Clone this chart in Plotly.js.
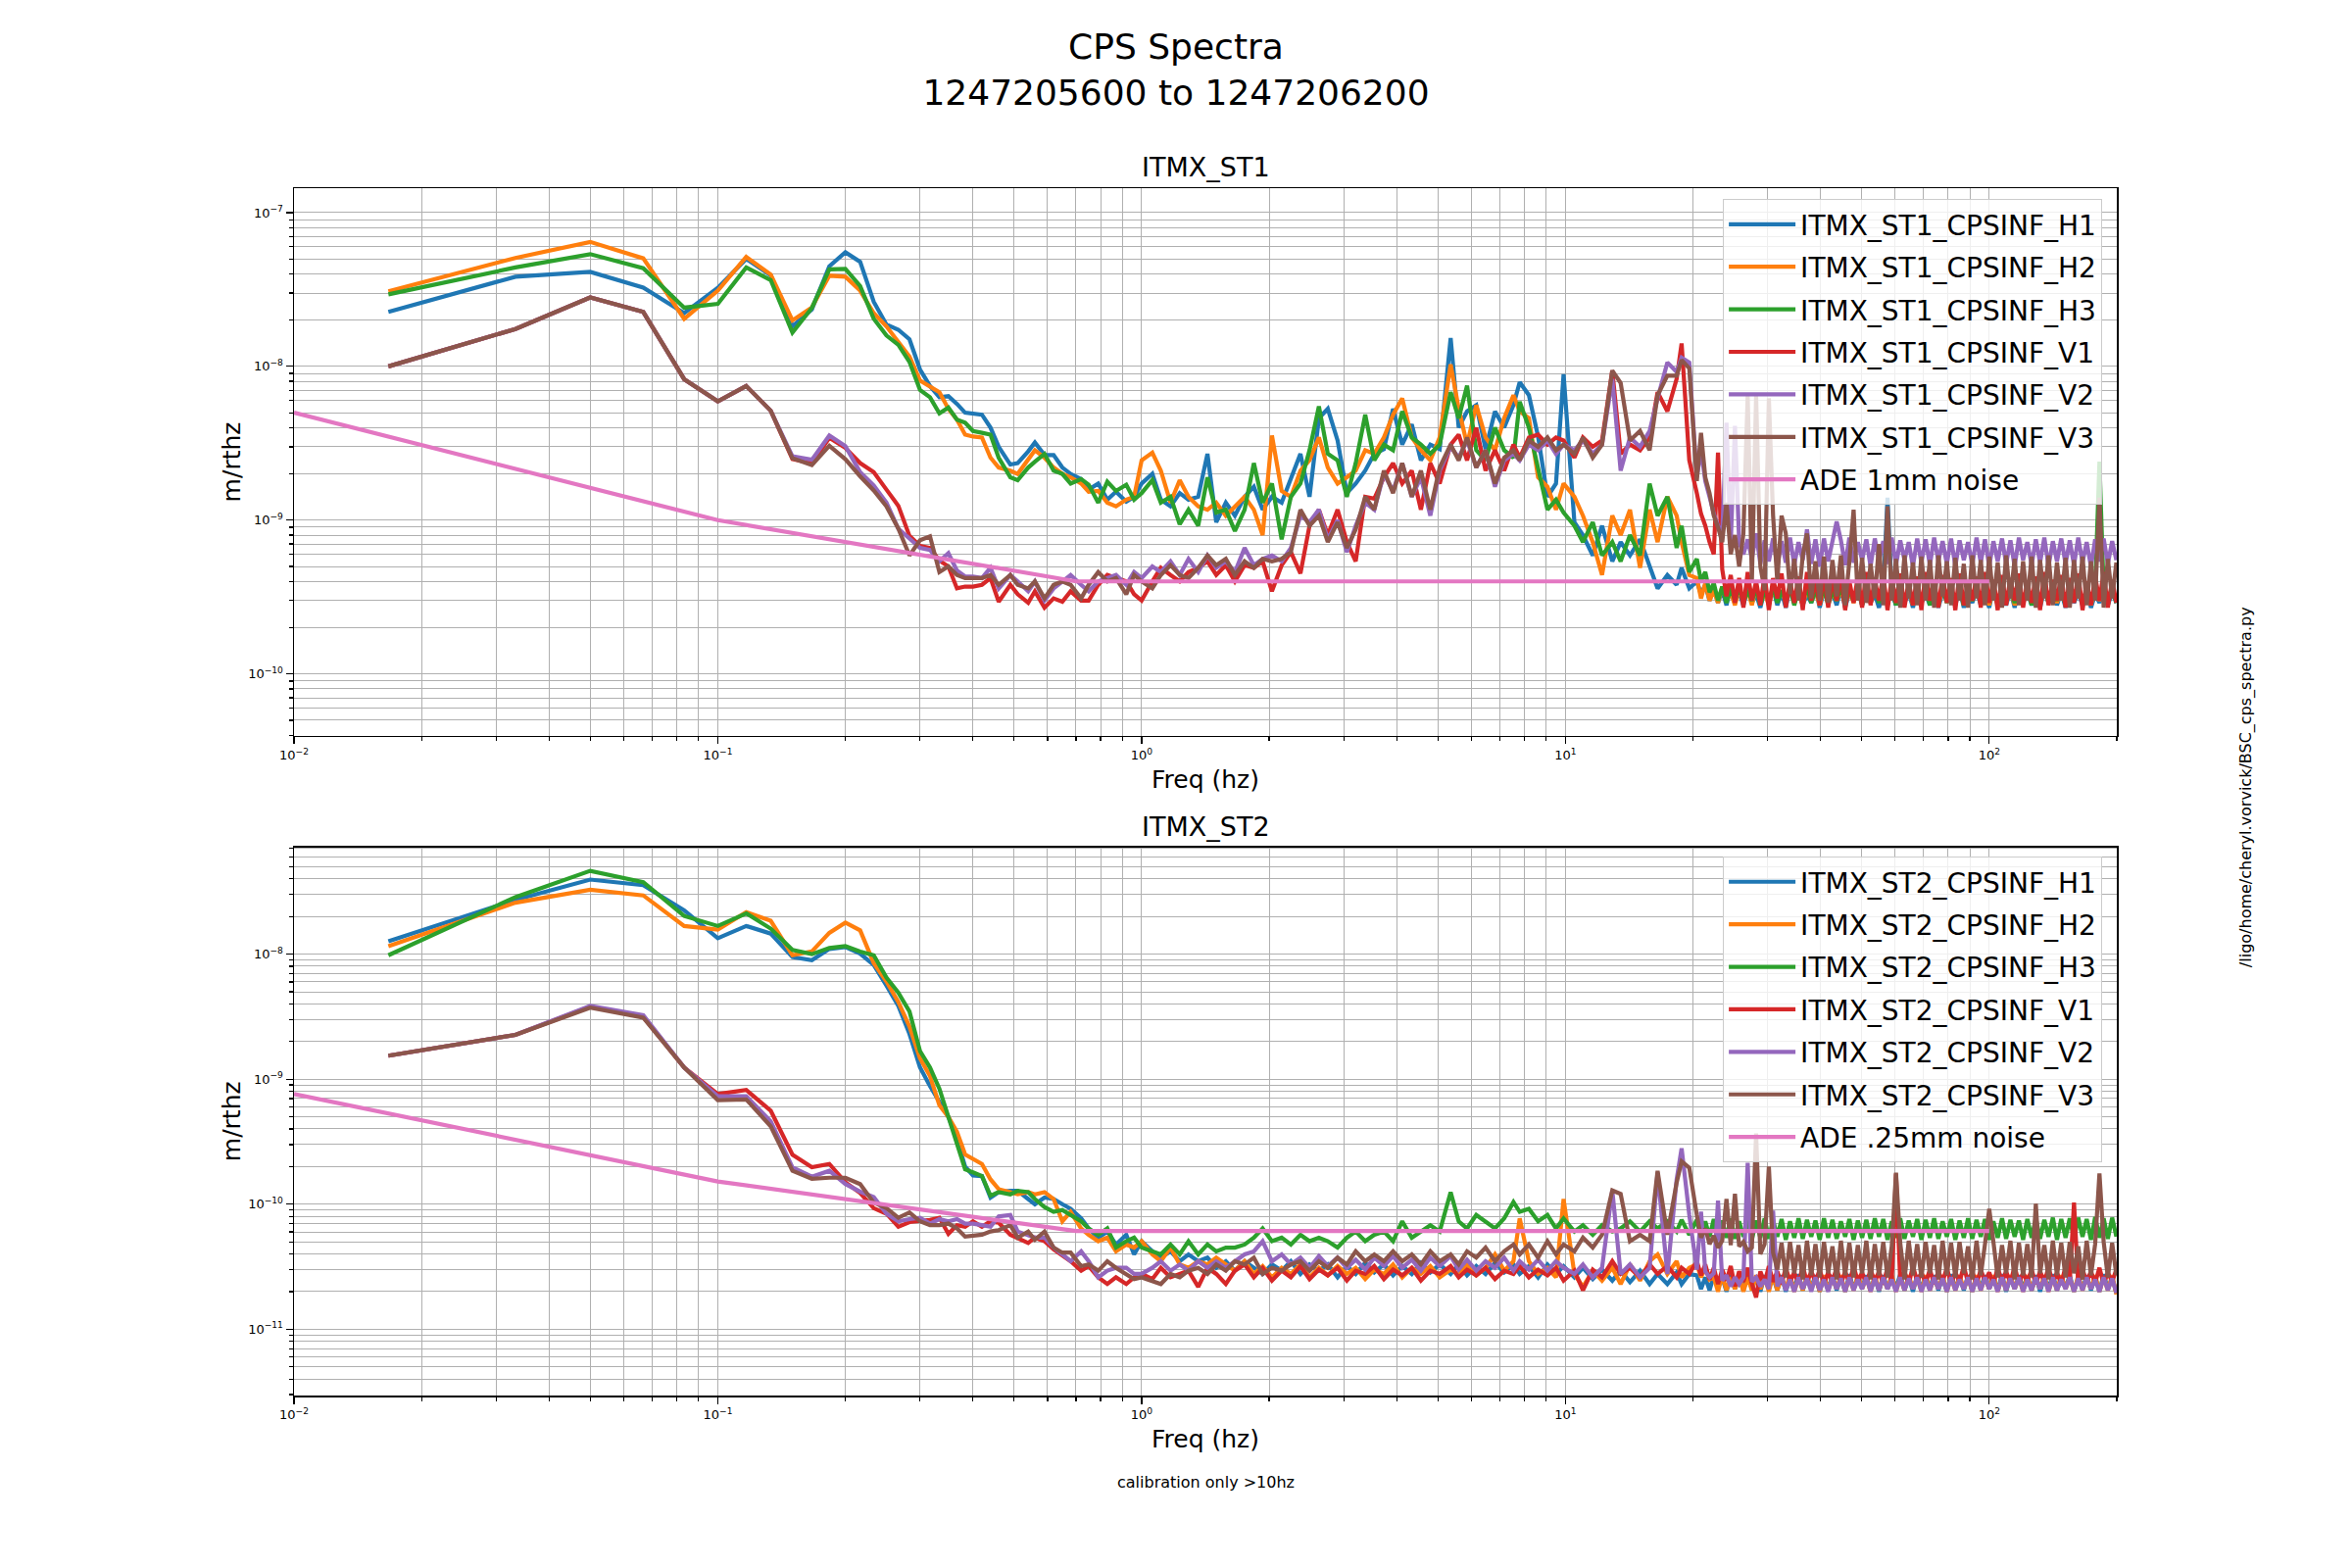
<!DOCTYPE html>
<html>
<head>
<meta charset="utf-8">
<script src="https://cdn.plot.ly/plotly-3.0.1.min.js"></script>
<style>
  html, body { margin: 0; padding: 0; background: #ffffff; }
  #chart { width: 2400px; height: 1600px; }
</style>
</head>
<body>
<div id="chart"></div>
<script>
// ---------------- frequency grid (Hz) ----------------
const fLow = [0.0167,0.0333,0.05,0.0667,0.0833,0.1,0.1167,0.1333,0.15,0.1667,0.1833,0.2,
  0.2167,0.2333,0.25,0.2667,0.2833,0.3,0.3167,0.3333,0.35,0.3667,0.3833,0.4];
const fMid = [0.42,0.44,0.46,0.49,0.51,0.54,0.56,0.59,0.62,0.65,
  0.68,0.72,0.75,0.79,0.83,0.87,0.92,0.96,1.0,1.06,
  1.11,1.17,1.23,1.29,1.36,1.43,1.5,1.58,1.66,1.75,
  1.84,1.93,2.03,2.14,2.25,2.37,2.49,2.62,2.75,2.9,
  3.05,3.2,3.37,3.54,3.73,3.92,4.12,4.34,4.56,4.8,
  5.05,5.36,5.6,5.86,6.16,6.48,6.82,7.17,7.54,7.8,
  8.2,8.62,9.07,9.5,9.9,10.5,11.0,11.6,12.2,12.9,
  13.5,14.2,15.0,15.8,16.5,17.4,18.3,18.8,19.6];
const fHigh = [20.42,20.89,21.38,21.88,22.39,22.91,23.44,23.99,24.55,25.12,
  25.70,26.30,26.92,27.54,28.18,28.84,29.51,30.20,30.90,31.62,
  32.36,33.11,33.88,34.67,35.48,36.31,37.15,38.02,38.90,39.81,
  40.74,41.69,42.66,43.65,44.67,45.71,46.77,47.86,48.98,50.12,
  51.29,52.48,53.70,54.95,56.23,57.54,58.88,60.26,61.66,63.10,
  64.57,66.07,67.61,69.18,70.79,72.44,74.13,75.86,77.62,79.43,
  81.28,83.18,85.11,87.10,89.13,91.20,93.33,95.50,97.72,100.0,
  102.3,104.7,107.2,109.6,112.2,114.8,117.5,120.2,123.0,125.9,
  128.8,131.8,134.9,138.0,141.3,144.5,147.9,151.4,154.9,158.5,
  162.2,166.0,169.8,173.8,177.8,182.0,186.2,190.5,195.0,199.5];

// ---------------- ITMX_ST1 spectra (m/rthz) ----------------
const st1_H1 = [2.26e-8,3.83e-8,4.12e-8,3.25e-8,2.22e-8,3.24e-8,5.0e-8,3.9e-8,1.82e-8,2.35e-8,4.48e-8,5.52e-8,
  4.79e-8,2.63e-8,1.87e-8,1.73e-8,1.5e-8,9.55e-9,7.45e-9,6.3e-9,6.4e-9,5.7e-9,5.0e-9,4.9e-9,
  4.85e-9,4.0e-9,3.0e-9,2.3e-9,2.35e-9,2.8e-9,3.2e-9,2.65e-9,2.65e-9,2.2e-9,
  2.0e-9,1.85e-9,1.58e-9,1.73e-9,1.36e-9,1.53e-9,1.32e-9,1.42e-9,1.73e-9,2.0e-9,
  1.36e-9,1.23e-9,1.5e-9,1.36e-9,1.42e-9,2.7e-9,9.7e-10,1.3e-9,1.07e-9,1.42e-9,
  1.65e-9,1.17e-9,1.42e-9,1.3e-9,1.9e-9,2.7e-9,1.42e-9,4.6e-9,5.3e-9,3.3e-9,
  1.5e-9,1.73e-9,2.1e-9,2.7e-9,2.9e-9,5.3e-9,3.1e-9,4.2e-9,2.45e-9,3.1e-9,
  2.9e-9,1.53e-8,4.0e-9,5.1e-9,5.6e-9,2.9e-9,5.1e-9,4.0e-9,5.6e-9,7.9e-9,
  6.5e-9,3.5e-9,1.42e-9,1.73e-9,8.9e-9,9.7e-10,8.0e-10,5.9e-10,9.2e-10,5.4e-10,
  7.2e-10,5.9e-10,7.5e-10,4.9e-10,3.6e-10,4.4e-10,3.8e-10,4.9e-10,3.6e-10,
  4.0e-10,3.3e-10,3.8e-10,3.0e-10,3.6e-10,2.9e-10,3.5e-10,2.8e-10,3.7e-10,3.0e-10,
  3.4e-10,2.8e-10,3.6e-10,2.9e-10,3.3e-10,2.7e-10,3.5e-10,3.0e-10,3.6e-10,2.8e-10,
  3.4e-10,2.7e-10,3.7e-10,2.9e-10,3.5e-10,2.8e-10,3.3e-10,2.9e-10,3.6e-10,2.7e-10,
  3.5e-10,2.9e-10,3.4e-10,2.8e-10,3.6e-10,2.7e-10,3.4e-10,3.0e-10,3.5e-10,2.8e-10,
  3.6e-10,2.9e-10,3.3e-10,2.7e-10,3.5e-10,1.4e-9,3.4e-10,2.8e-10,3.6e-10,2.9e-10,
  3.4e-10,2.7e-10,3.5e-10,2.9e-10,3.3e-10,2.8e-10,3.6e-10,2.7e-10,3.4e-10,3.0e-10,
  3.5e-10,2.8e-10,3.6e-10,2.7e-10,3.4e-10,2.9e-10,3.5e-10,2.8e-10,3.3e-10,2.7e-10,
  3.6e-10,2.9e-10,3.4e-10,2.8e-10,3.5e-10,2.7e-10,3.6e-10,2.9e-10,3.4e-10,2.8e-10,
  3.3e-10,2.7e-10,3.5e-10,2.9e-10,3.6e-10,2.8e-10,3.4e-10,2.7e-10,3.5e-10,2.9e-10,
  3.4e-10,2.8e-10,3.6e-10,2.7e-10,3.3e-10,2.9e-10,3.5e-10,2.8e-10,3.4e-10,2.9e-10];
const st1_H2 = [3.08e-8,5.07e-8,6.45e-8,5.04e-8,2.04e-8,3.11e-8,5.15e-8,3.96e-8,1.99e-8,2.42e-8,3.89e-8,3.83e-8,
  3.11e-8,2.22e-8,1.82e-8,1.46e-8,1.16e-8,8.1e-9,7.45e-9,6.8e-9,5.3e-9,4.5e-9,3.6e-9,3.5e-9,
  3.45e-9,2.55e-9,2.2e-9,2.1e-9,2.0e-9,2.45e-9,2.85e-9,2.55e-9,2.2e-9,2.0e-9,
  1.9e-9,1.73e-9,1.53e-9,1.55e-9,1.3e-9,1.23e-9,1.36e-9,1.42e-9,2.45e-9,2.75e-9,
  2.1e-9,1.3e-9,1.82e-9,1.42e-9,1.23e-9,1.17e-9,1.3e-9,1.07e-9,1.23e-9,1.42e-9,
  1.17e-9,8.0e-10,3.55e-9,1.55e-9,1.42e-9,2.1e-9,2.45e-9,3.45e-9,2.2e-9,1.73e-9,
  1.9e-9,2.1e-9,2.85e-9,2.7e-9,3.45e-9,4.85e-9,6.2e-9,3.45e-9,2.85e-9,2.45e-9,
  3.45e-9,1.03e-8,5.3e-9,3.1e-9,5.6e-9,3.45e-9,2.85e-9,4.6e-9,6.5e-9,5.1e-9,
  4.6e-9,1.9e-9,1.65e-9,1.17e-9,1.73e-9,1.42e-9,1.07e-9,7.2e-10,4.4e-10,1.07e-9,
  8.0e-10,1.17e-9,4.9e-10,1.17e-9,7.2e-10,1.42e-9,1.07e-9,7.2e-10,4.4e-10,
  4.2e-10,3.1e-10,3.9e-10,3.0e-10,3.5e-10,2.9e-10,3.7e-10,3.0e-10,3.4e-10,2.8e-10,
  3.6e-10,3.0e-10,3.5e-10,2.8e-10,3.7e-10,2.9e-10,3.4e-10,2.8e-10,3.6e-10,3.0e-10,
  3.5e-10,2.9e-10,3.7e-10,3.0e-10,3.4e-10,2.8e-10,3.6e-10,3.0e-10,3.5e-10,2.8e-10,
  3.7e-10,2.9e-10,3.4e-10,3.0e-10,3.6e-10,2.8e-10,3.5e-10,2.9e-10,3.7e-10,3.0e-10,
  3.4e-10,2.9e-10,3.6e-10,3.0e-10,3.5e-10,2.8e-10,3.7e-10,2.9e-10,3.4e-10,3.0e-10,
  3.6e-10,2.8e-10,3.5e-10,3.0e-10,3.7e-10,2.9e-10,3.4e-10,2.8e-10,3.6e-10,3.0e-10,
  3.5e-10,2.9e-10,3.7e-10,2.8e-10,3.4e-10,3.0e-10,3.6e-10,2.9e-10,3.5e-10,2.8e-10,
  3.7e-10,3.0e-10,3.4e-10,2.9e-10,3.6e-10,2.8e-10,3.5e-10,3.0e-10,3.7e-10,2.9e-10,
  3.4e-10,2.8e-10,3.6e-10,3.0e-10,3.5e-10,2.9e-10,3.7e-10,2.8e-10,3.4e-10,3.0e-10,
  3.6e-10,2.9e-10,3.5e-10,2.8e-10,3.7e-10,3.0e-10,3.4e-10,2.9e-10,3.6e-10,3.0e-10];
const st1_H3 = [2.94e-8,4.4e-8,5.37e-8,4.35e-8,2.41e-8,2.55e-8,4.4e-8,3.64e-8,1.66e-8,2.4e-8,4.28e-8,4.3e-8,
  3.33e-8,2.04e-8,1.59e-8,1.38e-8,1.07e-8,7.03e-9,6.3e-9,4.95e-9,5.4e-9,4.5e-9,4.3e-9,3.8e-9,
  3.7e-9,3.6e-9,2.55e-9,1.9e-9,1.82e-9,2.2e-9,2.4e-9,2.7e-9,2.1e-9,2.0e-9,
  1.73e-9,1.85e-9,1.7e-9,1.3e-9,1.78e-9,1.55e-9,1.7e-9,1.36e-9,1.5e-9,1.82e-9,
  1.3e-9,1.42e-9,9.4e-10,1.17e-9,9.2e-10,1.9e-9,1.12e-9,1.17e-9,8.5e-10,1.17e-9,
  2.35e-9,1.3e-9,1.73e-9,7.5e-10,1.42e-9,1.73e-9,2.85e-9,5.5e-9,2.7e-9,2.45e-9,
  1.42e-9,2.35e-9,4.85e-9,2.45e-9,3.1e-9,2.85e-9,5.1e-9,3.45e-9,3.1e-9,2.7e-9,
  3.1e-9,6.8e-9,4.6e-9,7.5e-9,2.85e-9,2.45e-9,4.0e-9,2.85e-9,2.55e-9,5.9e-9,
  4.0e-9,2.2e-9,1.17e-9,1.36e-9,1.12e-9,9.2e-10,7.2e-10,9.7e-10,5.9e-10,7.2e-10,
  5.4e-10,8.0e-10,5.9e-10,1.73e-9,1.07e-9,1.42e-9,6.6e-10,9.2e-10,4.6e-10,
  5.6e-10,4.0e-10,4.6e-10,3.4e-10,3.9e-10,3.0e-10,3.7e-10,2.9e-10,3.6e-10,3.0e-10,
  3.7e-10,2.9e-10,3.5e-10,3.0e-10,3.6e-10,2.8e-10,3.5e-10,3.0e-10,3.7e-10,2.9e-10,
  3.5e-10,3.0e-10,3.6e-10,2.8e-10,3.5e-10,3.0e-10,3.7e-10,2.9e-10,3.5e-10,3.0e-10,
  3.6e-10,2.8e-10,3.5e-10,3.0e-10,3.7e-10,2.9e-10,3.5e-10,3.0e-10,3.6e-10,2.8e-10,
  3.5e-10,3.0e-10,3.7e-10,2.9e-10,3.5e-10,3.0e-10,3.6e-10,2.8e-10,3.5e-10,3.0e-10,
  3.7e-10,2.9e-10,3.5e-10,3.0e-10,3.6e-10,2.8e-10,3.5e-10,3.0e-10,3.7e-10,2.9e-10,
  3.5e-10,3.0e-10,3.6e-10,2.8e-10,3.5e-10,3.0e-10,3.7e-10,2.9e-10,3.5e-10,3.0e-10,
  3.6e-10,2.8e-10,3.5e-10,3.0e-10,3.7e-10,2.9e-10,3.5e-10,3.0e-10,3.6e-10,2.8e-10,
  3.5e-10,3.0e-10,3.7e-10,2.9e-10,3.5e-10,3.0e-10,3.6e-10,2.8e-10,3.5e-10,3.0e-10,
  3.7e-10,2.9e-10,3.5e-10,3.0e-10,3.6e-10,2.4e-9,3.5e-10,3.0e-10,3.7e-10,2.9e-10];
const st1_V1 = [1.0e-8,1.75e-8,2.81e-8,2.26e-8,8.26e-9,5.93e-9,7.46e-9,5.15e-9,2.5e-9,2.35e-9,3.43e-9,2.95e-9,
  2.35e-9,2.05e-9,1.58e-9,1.24e-9,7.9e-10,6.8e-10,6.6e-10,5.46e-10,5.0e-10,3.6e-10,3.7e-10,3.7e-10,
  3.8e-10,4.2e-10,2.95e-10,3.8e-10,3.3e-10,2.9e-10,3.45e-10,2.7e-10,3.1e-10,2.95e-10,
  3.45e-10,3.0e-10,3.0e-10,3.8e-10,4.4e-10,4.2e-10,4.0e-10,3.3e-10,3.0e-10,4.0e-10,
  4.9e-10,4.4e-10,4.0e-10,4.6e-10,4.9e-10,5.4e-10,4.4e-10,5.1e-10,4.0e-10,5.1e-10,
  4.9e-10,5.4e-10,3.45e-10,5.1e-10,6.2e-10,4.5e-10,9.2e-10,1.17e-9,8.0e-10,1.17e-9,
  7.2e-10,5.4e-10,1.42e-9,1.38e-9,1.9e-9,2.35e-9,1.73e-9,2.1e-9,1.17e-9,2.35e-9,
  1.73e-9,3.1e-9,3.6e-9,2.45e-9,4.0e-9,2.1e-9,2.85e-9,2.1e-9,3.1e-9,2.55e-9,
  3.45e-9,3.6e-9,3.1e-9,3.45e-9,3.3e-9,2.55e-9,3.45e-9,3.0e-9,3.3e-9,9.4e-9,
  2.7e-9,3.1e-9,2.85e-9,3.45e-9,6.8e-9,5.1e-9,8.3e-9,1.41e-8,2.45e-9,
  1.5e-9,1.1e-9,9.2e-10,7.2e-10,6.0e-10,2.75e-9,4.8e-10,3.2e-10,4.4e-10,2.9e-10,
  4.2e-10,2.7e-10,4.6e-10,3.0e-10,4.0e-10,2.8e-10,4.4e-10,2.6e-10,4.2e-10,3.1e-10,
  4.5e-10,2.7e-10,4.0e-10,2.9e-10,4.3e-10,2.6e-10,4.6e-10,3.0e-10,4.1e-10,2.8e-10,
  4.4e-10,2.7e-10,4.2e-10,3.0e-10,4.5e-10,2.6e-10,4.0e-10,2.9e-10,4.3e-10,2.7e-10,
  4.6e-10,2.8e-10,4.1e-10,3.0e-10,4.4e-10,2.6e-10,4.2e-10,2.9e-10,4.5e-10,2.7e-10,
  4.0e-10,2.8e-10,4.3e-10,2.6e-10,4.6e-10,3.0e-10,4.1e-10,2.7e-10,4.4e-10,2.9e-10,
  4.2e-10,2.6e-10,4.5e-10,2.8e-10,4.0e-10,3.0e-10,4.3e-10,2.7e-10,4.6e-10,2.9e-10,
  4.1e-10,2.6e-10,4.4e-10,2.8e-10,4.2e-10,3.0e-10,4.5e-10,2.7e-10,4.0e-10,2.9e-10,
  4.3e-10,2.6e-10,4.6e-10,2.8e-10,4.1e-10,3.0e-10,4.4e-10,2.7e-10,4.2e-10,2.9e-10,
  4.5e-10,2.6e-10,4.0e-10,2.8e-10,4.3e-10,3.0e-10,4.6e-10,2.7e-10,4.1e-10,2.9e-10];
const st1_V2 = [1.0e-8,1.75e-8,2.81e-8,2.26e-8,8.26e-9,5.93e-9,7.46e-9,5.15e-9,2.6e-9,2.47e-9,3.55e-9,3.03e-9,
  2.05e-9,1.68e-9,1.3e-9,8.8e-10,7.6e-10,6.6e-10,6.4e-10,5.4e-10,6.1e-10,4.7e-10,4.3e-10,4.3e-10,
  4.2e-10,4.9e-10,3.6e-10,4.4e-10,4.0e-10,3.45e-10,4.0e-10,3.0e-10,3.6e-10,4.0e-10,
  4.4e-10,3.8e-10,3.45e-10,4.0e-10,4.2e-10,4.4e-10,3.8e-10,4.6e-10,4.2e-10,5.0e-10,
  4.6e-10,5.4e-10,4.4e-10,5.6e-10,4.6e-10,5.9e-10,4.9e-10,5.4e-10,4.6e-10,6.6e-10,
  5.1e-10,5.6e-10,5.9e-10,5.4e-10,6.6e-10,1.07e-9,9.7e-10,1.17e-9,7.5e-10,1.0e-9,
  6.2e-10,9.2e-10,1.3e-9,1.17e-9,2.0e-9,1.55e-9,2.35e-9,1.42e-9,1.9e-9,1.07e-9,
  2.1e-9,3.0e-9,2.55e-9,3.3e-9,2.2e-9,2.85e-9,1.65e-9,2.45e-9,2.7e-9,2.45e-9,
  3.1e-9,2.85e-9,3.3e-9,2.7e-9,3.1e-9,2.85e-9,3.3e-9,2.7e-9,3.1e-9,8.3e-9,
  2.1e-9,3.45e-9,3.0e-9,3.8e-9,6.2e-9,1.06e-8,9.2e-9,1.14e-8,1.06e-8,
  1.9e-9,2.85e-9,1.8e-9,1.42e-9,1.1e-9,9.2e-10,8.0e-10,4.3e-9,7.0e-10,4.1e-9,
  7.2e-10,6.0e-10,7.5e-10,5.6e-10,8.2e-10,5.2e-10,7.4e-10,5.4e-10,7.6e-10,5.0e-10,
  7.3e-10,5.3e-10,7.7e-10,5.1e-10,7.2e-10,5.5e-10,8.7e-10,5.2e-10,7.5e-10,5.0e-10,
  7.6e-10,5.4e-10,7.3e-10,9.8e-10,7.4e-10,5.1e-10,7.7e-10,5.3e-10,7.2e-10,5.5e-10,
  7.5e-10,5.0e-10,7.6e-10,5.4e-10,7.3e-10,5.2e-10,7.7e-10,5.1e-10,7.4e-10,5.5e-10,
  7.2e-10,5.0e-10,7.6e-10,5.3e-10,7.5e-10,5.1e-10,7.7e-10,5.4e-10,7.3e-10,5.2e-10,
  7.6e-10,5.0e-10,7.4e-10,5.5e-10,7.2e-10,5.1e-10,7.7e-10,5.3e-10,7.5e-10,5.0e-10,
  7.3e-10,5.4e-10,7.6e-10,5.2e-10,7.4e-10,5.0e-10,7.7e-10,5.5e-10,7.2e-10,5.1e-10,
  7.5e-10,5.3e-10,7.7e-10,5.0e-10,7.3e-10,5.4e-10,7.6e-10,5.2e-10,7.4e-10,5.1e-10,
  7.7e-10,5.3e-10,7.2e-10,5.0e-10,7.5e-10,5.4e-10,7.6e-10,5.2e-10,7.3e-10,5.5e-10];
const st1_V3 = [1.0e-8,1.75e-8,2.81e-8,2.26e-8,8.26e-9,5.93e-9,7.46e-9,5.15e-9,2.53e-9,2.28e-9,3.05e-9,2.49e-9,
  1.93e-9,1.56e-9,1.23e-9,8.8e-10,5.9e-10,7.4e-10,7.85e-10,4.6e-10,5.0e-10,4.4e-10,4.2e-10,4.2e-10,
  4.2e-10,4.4e-10,3.8e-10,4.4e-10,3.8e-10,3.6e-10,4.0e-10,3.1e-10,3.8e-10,4.0e-10,
  3.8e-10,3.1e-10,3.8e-10,4.6e-10,4.0e-10,4.2e-10,3.3e-10,4.4e-10,4.0e-10,3.6e-10,
  4.4e-10,5.1e-10,4.4e-10,4.2e-10,4.9e-10,5.9e-10,5.1e-10,5.6e-10,4.4e-10,5.4e-10,
  4.9e-10,5.6e-10,5.4e-10,5.6e-10,6.2e-10,1.17e-9,9.2e-10,1.07e-9,7.2e-10,9.7e-10,
  6.6e-10,8.7e-10,1.42e-9,1.17e-9,2.1e-9,1.5e-9,2.35e-9,1.42e-9,2.1e-9,1.17e-9,
  2.2e-9,3.1e-9,2.45e-9,3.45e-9,2.2e-9,2.85e-9,1.73e-9,2.55e-9,2.85e-9,2.45e-9,
  3.3e-9,3.0e-9,3.45e-9,2.85e-9,3.1e-9,2.7e-9,3.45e-9,2.55e-9,3.1e-9,9.4e-9,
  7.8e-9,3.3e-9,3.8e-9,2.85e-9,6.5e-9,8.7e-9,8.7e-9,1.1e-8,9.7e-9,
  1.8e-9,3.7e-9,1.9e-9,1.5e-9,1.07e-9,9.0e-10,7.2e-10,1.3e-9,6.0e-10,8.0e-10,
  5.0e-10,8.2e-10,6.5e-9,4.0e-10,6.5e-9,5.0e-10,3.5e-10,6.2e-9,1.07e-9,4.0e-10,
  1.07e-9,8.2e-10,3.3e-10,5.6e-10,3.0e-10,5.9e-10,8.2e-10,3.1e-10,5.4e-10,3.0e-10,
  5.8e-10,2.9e-10,5.5e-10,3.2e-10,5.9e-10,2.8e-10,5.4e-10,1.17e-9,3.0e-10,5.7e-10,
  2.9e-10,5.2e-10,3.1e-10,7.0e-10,2.8e-10,1.23e-9,3.0e-10,5.6e-10,2.7e-10,5.9e-10,
  3.1e-10,5.3e-10,2.8e-10,5.8e-10,3.0e-10,5.5e-10,2.7e-10,5.9e-10,3.2e-10,5.4e-10,
  2.8e-10,5.7e-10,3.0e-10,5.2e-10,2.7e-10,5.9e-10,3.1e-10,5.5e-10,2.8e-10,5.8e-10,
  3.0e-10,5.3e-10,2.7e-10,5.9e-10,3.1e-10,5.6e-10,2.8e-10,5.4e-10,3.0e-10,5.8e-10,
  2.7e-10,5.5e-10,3.1e-10,5.9e-10,2.8e-10,5.3e-10,3.0e-10,5.7e-10,2.7e-10,5.5e-10,
  3.1e-10,5.8e-10,2.8e-10,5.4e-10,3.0e-10,1.4e-9,2.7e-10,5.6e-10,3.1e-10,5.3e-10];
const ade1_f = [0.01, 0.1, 0.7, 100];
const ade1_v = [5.0e-9, 1.0e-9, 4.0e-10, 4.0e-10];

// ---------------- ITMX_ST2 spectra (m/rthz) ----------------
const st2_H1 = [1.27e-8,2.72e-8,3.95e-8,3.56e-8,2.24e-8,1.34e-8,1.68e-8,1.46e-8,9.5e-9,8.95e-9,1.1e-8,1.14e-8,
  1.01e-8,8.2e-9,5.6e-9,3.86e-9,2.3e-9,1.24e-9,8.8e-10,6.6e-10,5.0e-10,3.3e-10,2.0e-10,1.7e-10,
  1.68e-10,1.13e-10,1.25e-10,1.28e-10,1.28e-10,1.1e-10,1.0e-10,1.13e-10,1.1e-10,1.0e-10,
  9.2e-11,7.7e-11,6.4e-11,5.4e-11,6.05e-11,4.76e-11,5.7e-11,3.97e-11,5.06e-11,4.2e-11,
  3.74e-11,4.2e-11,3.5e-11,3.97e-11,3.5e-11,3.74e-11,3.1e-11,3.5e-11,2.94e-11,3.5e-11,
  3.1e-11,2.77e-11,3.3e-11,2.94e-11,3.5e-11,2.77e-11,3.3e-11,2.94e-11,3.3e-11,2.6e-11,
  3.2e-11,2.77e-11,3.4e-11,2.85e-11,3.3e-11,2.7e-11,3.2e-11,2.77e-11,3.4e-11,2.85e-11,
  3.3e-11,2.77e-11,3.3e-11,2.7e-11,3.2e-11,2.77e-11,3.4e-11,2.85e-11,3.3e-11,2.77e-11,
  3.2e-11,2.6e-11,3.3e-11,2.77e-11,3.2e-11,2.6e-11,3.1e-11,2.52e-11,3.0e-11,2.45e-11,
  2.94e-11,2.38e-11,2.94e-11,2.3e-11,2.77e-11,2.3e-11,2.85e-11,2.3e-11,2.77e-11,
  2.7e-11,2.1e-11,2.6e-11,2.05e-11,2.7e-11,2.15e-11,2.6e-11,2.0e-11,2.7e-11,2.1e-11,
  2.6e-11,2.05e-11,2.75e-11,2.1e-11,2.6e-11,2.0e-11,2.7e-11,2.15e-11,2.6e-11,2.05e-11,
  2.7e-11,2.0e-11,2.6e-11,2.1e-11,2.75e-11,2.05e-11,2.6e-11,2.15e-11,2.7e-11,2.0e-11,
  2.6e-11,2.1e-11,2.7e-11,2.05e-11,2.6e-11,2.0e-11,2.75e-11,2.1e-11,2.6e-11,2.15e-11,
  2.7e-11,2.05e-11,2.6e-11,2.0e-11,2.7e-11,2.1e-11,2.6e-11,2.15e-11,2.75e-11,2.05e-11,
  2.6e-11,2.0e-11,2.7e-11,2.1e-11,2.6e-11,2.15e-11,2.7e-11,2.05e-11,2.6e-11,2.0e-11,
  2.75e-11,2.1e-11,2.6e-11,2.05e-11,2.7e-11,2.0e-11,2.6e-11,2.15e-11,2.7e-11,2.1e-11,
  2.6e-11,2.05e-11,2.75e-11,2.0e-11,2.6e-11,2.1e-11,2.7e-11,2.15e-11,2.6e-11,2.05e-11,
  2.7e-11,2.0e-11,2.6e-11,2.1e-11,2.75e-11,2.05e-11,2.6e-11,2.15e-11,2.7e-11,2.0e-11,
  2.6e-11,2.1e-11,2.7e-11,2.05e-11,2.6e-11,2.0e-11,2.75e-11,2.1e-11,2.6e-11,1.95e-11];
const st2_H2 = [1.16e-8,2.58e-8,3.28e-8,2.95e-8,1.68e-8,1.57e-8,2.17e-8,1.85e-8,9.8e-9,1.05e-8,1.48e-8,1.79e-8,
  1.55e-8,8.5e-9,6.04e-9,4.14e-9,2.64e-9,1.47e-9,1.06e-9,6.2e-10,5.0e-10,3.8e-10,2.5e-10,2.3e-10,
  2.1e-10,1.58e-10,1.32e-10,1.25e-10,1.2e-10,1.25e-10,1.2e-10,1.25e-10,1.1e-10,7.3e-11,
  8.7e-11,6.4e-11,5.7e-11,5.06e-11,5.4e-11,4.2e-11,4.76e-11,4.5e-11,5.06e-11,3.97e-11,
  3.5e-11,4.5e-11,3.3e-11,3.1e-11,3.5e-11,3.3e-11,3.74e-11,3.3e-11,2.94e-11,3.5e-11,
  2.77e-11,3.2e-11,2.6e-11,3.1e-11,2.77e-11,3.3e-11,2.6e-11,3.1e-11,2.7e-11,3.2e-11,
  2.77e-11,3.1e-11,2.52e-11,3.0e-11,2.77e-11,3.3e-11,2.6e-11,3.1e-11,2.77e-11,3.2e-11,
  2.6e-11,3.0e-11,2.77e-11,3.3e-11,2.7e-11,3.1e-11,3.97e-11,2.94e-11,3.5e-11,7.7e-11,
  3.5e-11,2.77e-11,3.1e-11,2.6e-11,1.1e-10,2.77e-11,2.18e-11,2.94e-11,2.45e-11,3.1e-11,
  2.3e-11,3.3e-11,2.45e-11,3.5e-11,3.97e-11,2.77e-11,3.5e-11,2.6e-11,3.1e-11,
  3.3e-11,2.6e-11,3.1e-11,2.5e-11,2.6e-11,2.0e-11,2.7e-11,2.05e-11,2.6e-11,2.1e-11,
  2.7e-11,2.0e-11,2.6e-11,2.05e-11,2.7e-11,2.1e-11,2.6e-11,2.0e-11,2.7e-11,2.05e-11,
  2.6e-11,2.1e-11,2.7e-11,2.0e-11,2.6e-11,2.05e-11,2.7e-11,2.1e-11,2.6e-11,2.0e-11,
  2.7e-11,2.05e-11,2.6e-11,2.1e-11,2.7e-11,2.0e-11,2.6e-11,2.05e-11,2.7e-11,2.1e-11,
  2.6e-11,2.0e-11,2.7e-11,2.05e-11,2.6e-11,2.1e-11,2.7e-11,2.0e-11,2.6e-11,2.05e-11,
  2.7e-11,2.1e-11,2.6e-11,2.0e-11,2.7e-11,2.05e-11,2.6e-11,2.1e-11,2.7e-11,2.0e-11,
  2.6e-11,2.05e-11,2.7e-11,2.1e-11,2.6e-11,2.0e-11,2.7e-11,2.05e-11,2.6e-11,2.1e-11,
  2.7e-11,2.0e-11,2.6e-11,2.05e-11,2.7e-11,2.1e-11,2.6e-11,2.0e-11,2.7e-11,2.05e-11,
  2.6e-11,2.1e-11,2.7e-11,2.0e-11,2.6e-11,2.05e-11,2.7e-11,2.1e-11,2.6e-11,2.0e-11,
  2.7e-11,2.05e-11,2.6e-11,2.1e-11,2.7e-11,2.0e-11,2.6e-11,2.05e-11,2.7e-11,1.9e-11];
const st2_H3 = [9.8e-9,2.86e-8,4.64e-8,3.77e-8,2.02e-8,1.68e-8,2.12e-8,1.6e-8,1.08e-8,1.0e-8,1.12e-8,1.16e-8,
  1.05e-8,9.8e-9,6.5e-9,4.91e-9,3.48e-9,1.68e-9,1.24e-9,8.4e-10,5.0e-10,3.1e-10,1.9e-10,1.8e-10,
  1.68e-10,1.17e-10,1.25e-10,1.2e-10,1.28e-10,1.25e-10,1.1e-10,9.5e-11,8.7e-11,9.0e-11,
  8.2e-11,7.3e-11,6.4e-11,5.7e-11,6.4e-11,4.5e-11,5.06e-11,5.4e-11,4.5e-11,4.2e-11,
  3.97e-11,4.76e-11,3.97e-11,5.06e-11,3.97e-11,4.76e-11,4.2e-11,4.5e-11,4.5e-11,4.76e-11,
  5.4e-11,6.4e-11,5.06e-11,5.4e-11,4.76e-11,5.7e-11,5.06e-11,5.4e-11,5.06e-11,4.5e-11,
  5.4e-11,6.05e-11,5.06e-11,5.7e-11,6.05e-11,5.06e-11,7.3e-11,5.4e-11,6.05e-11,6.8e-11,
  6.05e-11,1.25e-10,7.3e-11,6.4e-11,8.2e-11,7.3e-11,6.4e-11,7.7e-11,1.04e-10,8.7e-11,
  9.2e-11,7.3e-11,8.2e-11,6.4e-11,7.7e-11,6.05e-11,6.8e-11,5.7e-11,6.8e-11,6.05e-11,
  6.4e-11,7.3e-11,6.05e-11,7.3e-11,6.4e-11,7.3e-11,6.05e-11,7.5e-11,5.7e-11,
  7.5e-11,5.3e-11,7.3e-11,5.5e-11,7.6e-11,5.2e-11,7.4e-11,5.4e-11,7.7e-11,5.3e-11,
  7.3e-11,5.5e-11,7.6e-11,5.2e-11,7.4e-11,5.4e-11,7.7e-11,5.3e-11,7.5e-11,5.5e-11,
  7.6e-11,5.2e-11,7.3e-11,5.4e-11,7.7e-11,5.3e-11,7.5e-11,5.5e-11,7.4e-11,5.2e-11,
  7.7e-11,5.4e-11,7.5e-11,5.3e-11,7.3e-11,5.5e-11,7.6e-11,5.2e-11,7.4e-11,5.4e-11,
  7.5e-11,5.3e-11,7.7e-11,5.5e-11,7.6e-11,5.2e-11,7.3e-11,5.4e-11,7.7e-11,5.3e-11,
  7.4e-11,5.5e-11,7.6e-11,5.2e-11,7.5e-11,5.4e-11,7.7e-11,5.3e-11,7.3e-11,5.5e-11,
  7.6e-11,5.2e-11,7.4e-11,5.4e-11,7.7e-11,5.3e-11,7.5e-11,5.5e-11,7.6e-11,5.2e-11,
  7.3e-11,5.4e-11,7.7e-11,5.3e-11,7.5e-11,5.5e-11,7.4e-11,5.2e-11,7.6e-11,5.4e-11,
  7.7e-11,5.3e-11,7.5e-11,5.5e-11,7.8e-11,5.2e-11,7.6e-11,5.4e-11,7.7e-11,5.3e-11,
  7.8e-11,5.5e-11,7.6e-11,5.2e-11,7.9e-11,5.4e-11,7.7e-11,5.3e-11,7.8e-11,5.5e-11];
const st2_V1 = [1.54e-9,2.26e-9,3.8e-9,3.15e-9,1.24e-9,7.6e-10,8.2e-10,5.6e-10,2.49e-10,1.98e-10,2.1e-10,1.5e-10,
  1.23e-10,9.3e-11,8.4e-11,6.6e-11,7.2e-11,7.3e-11,7.5e-11,7.8e-11,5.8e-11,6.8e-11,6.6e-11,7.3e-11,
  6.6e-11,7.3e-11,7.1e-11,5.7e-11,5.4e-11,4.9e-11,5.4e-11,5.06e-11,4.35e-11,3.85e-11,
  3.5e-11,2.94e-11,3.2e-11,2.6e-11,2.3e-11,2.6e-11,2.3e-11,2.6e-11,2.77e-11,2.52e-11,
  3.1e-11,2.6e-11,2.77e-11,2.94e-11,2.18e-11,3.1e-11,2.77e-11,2.3e-11,2.94e-11,3.3e-11,
  2.6e-11,3.1e-11,2.45e-11,2.94e-11,2.6e-11,3.2e-11,2.52e-11,3.0e-11,2.7e-11,3.1e-11,
  2.45e-11,2.94e-11,2.77e-11,3.2e-11,2.52e-11,3.0e-11,2.7e-11,3.1e-11,2.45e-11,2.94e-11,
  2.77e-11,3.2e-11,2.6e-11,3.0e-11,2.7e-11,3.1e-11,2.52e-11,2.94e-11,2.77e-11,3.2e-11,
  2.6e-11,3.0e-11,2.7e-11,3.1e-11,2.45e-11,2.94e-11,2.05e-11,3.0e-11,2.6e-11,3.5e-11,
  2.77e-11,3.1e-11,2.6e-11,3.3e-11,2.77e-11,3.2e-11,2.6e-11,3.1e-11,2.77e-11,
  3.5e-11,2.7e-11,3.3e-11,2.5e-11,3.1e-11,2.3e-11,3.0e-11,2.45e-11,3.2e-11,2.2e-11,
  2.9e-11,2.4e-11,3.1e-11,2.3e-11,1.8e-11,2.9e-11,2.35e-11,3.2e-11,2.4e-11,2.9e-11,
  2.3e-11,3.1e-11,2.4e-11,2.85e-11,2.3e-11,3.2e-11,2.35e-11,2.9e-11,2.4e-11,3.0e-11,
  2.3e-11,2.85e-11,2.4e-11,3.1e-11,2.3e-11,2.9e-11,2.35e-11,3.2e-11,2.4e-11,2.85e-11,
  2.3e-11,3.0e-11,2.4e-11,2.9e-11,2.3e-11,3.1e-11,2.35e-11,1.76e-10,2.4e-11,2.9e-11,
  2.3e-11,3.2e-11,2.4e-11,2.85e-11,2.35e-11,3.0e-11,2.3e-11,2.9e-11,2.4e-11,3.1e-11,
  2.3e-11,2.85e-11,2.4e-11,3.2e-11,2.35e-11,2.9e-11,2.3e-11,3.0e-11,2.4e-11,2.85e-11,
  2.3e-11,3.1e-11,2.4e-11,2.9e-11,2.35e-11,3.2e-11,2.3e-11,2.85e-11,2.4e-11,3.0e-11,
  2.3e-11,2.9e-11,2.4e-11,3.1e-11,2.35e-11,2.85e-11,2.3e-11,3.2e-11,2.4e-11,1.03e-10,
  2.3e-11,3.0e-11,2.4e-11,2.9e-11,2.35e-11,3.1e-11,2.3e-11,2.85e-11,2.4e-11,3.0e-11];
const st2_V2 = [1.54e-9,2.26e-9,3.86e-9,3.25e-9,1.24e-9,7.3e-10,7.3e-10,4.6e-10,1.97e-10,1.66e-10,1.85e-10,1.45e-10,
  1.26e-10,1.14e-10,8.4e-11,7.3e-11,7.6e-11,7.8e-11,7.0e-11,7.6e-11,7.3e-11,7.6e-11,7.0e-11,7.0e-11,
  6.8e-11,6.6e-11,8.0e-11,8.2e-11,6.05e-11,5.7e-11,5.4e-11,5.4e-11,4.5e-11,3.97e-11,
  3.5e-11,4.2e-11,3.5e-11,2.6e-11,2.94e-11,3.1e-11,3.1e-11,2.77e-11,2.77e-11,3.1e-11,
  3.5e-11,2.94e-11,3.3e-11,2.94e-11,3.5e-11,3.1e-11,3.5e-11,3.1e-11,3.5e-11,3.97e-11,
  4.2e-11,5.06e-11,3.5e-11,3.97e-11,3.3e-11,3.74e-11,3.1e-11,3.85e-11,3.2e-11,3.74e-11,
  3.1e-11,3.6e-11,3.0e-11,3.74e-11,3.2e-11,3.85e-11,3.1e-11,3.6e-11,2.94e-11,3.74e-11,
  3.2e-11,3.85e-11,3.0e-11,3.6e-11,2.94e-11,3.5e-11,3.1e-11,3.74e-11,2.94e-11,3.5e-11,
  3.0e-11,3.6e-11,2.94e-11,3.5e-11,3.1e-11,2.77e-11,3.3e-11,2.6e-11,3.1e-11,1.29e-10,
  2.77e-11,3.3e-11,2.6e-11,3.1e-11,1.79e-10,2.77e-11,1.58e-10,2.8e-10,8.2e-11,
  3.0e-11,8.7e-11,2.9e-11,2.6e-11,2.8e-11,1.07e-10,2.45e-11,2.7e-11,2.2e-11,2.6e-11,
  2.3e-11,2.6e-11,2.14e-10,2.4e-11,2.6e-11,2.2e-11,2.5e-11,2.1e-11,8.9e-11,2.2e-11,
  2.6e-11,2.05e-11,2.5e-11,2.0e-11,2.6e-11,2.1e-11,2.55e-11,2.0e-11,2.6e-11,2.05e-11,
  2.5e-11,2.0e-11,2.6e-11,2.1e-11,2.55e-11,2.0e-11,2.6e-11,2.05e-11,2.5e-11,2.1e-11,
  2.6e-11,2.0e-11,2.55e-11,2.05e-11,2.6e-11,2.1e-11,2.5e-11,2.0e-11,2.6e-11,2.05e-11,
  2.55e-11,2.1e-11,2.6e-11,2.0e-11,2.5e-11,2.05e-11,2.6e-11,2.1e-11,2.55e-11,2.0e-11,
  2.6e-11,2.05e-11,2.5e-11,2.1e-11,2.6e-11,2.0e-11,2.55e-11,2.05e-11,2.6e-11,2.1e-11,
  2.5e-11,2.0e-11,2.6e-11,2.05e-11,2.55e-11,2.1e-11,2.6e-11,2.0e-11,2.5e-11,2.05e-11,
  2.6e-11,2.1e-11,2.55e-11,2.0e-11,2.6e-11,2.05e-11,2.5e-11,2.1e-11,2.6e-11,2.0e-11,
  2.55e-11,2.05e-11,2.6e-11,2.1e-11,2.5e-11,2.0e-11,2.6e-11,2.05e-11,2.55e-11,1.95e-11];
const st2_V3 = [1.54e-9,2.26e-9,3.73e-9,3.1e-9,1.24e-9,6.8e-10,6.9e-10,4.2e-10,1.85e-10,1.6e-10,1.63e-10,1.63e-10,
  1.45e-10,1.03e-10,9.3e-11,7.8e-11,8.6e-11,7.3e-11,6.8e-11,6.8e-11,7.0e-11,6.4e-11,5.5e-11,5.6e-11,
  5.7e-11,6.05e-11,6.2e-11,6.8e-11,5.4e-11,6.05e-11,5.2e-11,6.05e-11,4.5e-11,4.1e-11,
  4.1e-11,3.2e-11,3.3e-11,2.94e-11,3.5e-11,3.1e-11,2.77e-11,2.52e-11,2.6e-11,2.45e-11,
  2.3e-11,2.77e-11,2.6e-11,2.94e-11,3.1e-11,2.77e-11,3.3e-11,2.94e-11,3.5e-11,3.3e-11,
  3.74e-11,2.77e-11,3.1e-11,2.94e-11,3.3e-11,3.5e-11,2.94e-11,3.5e-11,3.1e-11,3.74e-11,
  3.3e-11,4.2e-11,3.5e-11,3.97e-11,3.5e-11,4.2e-11,3.5e-11,3.97e-11,3.3e-11,4.2e-11,
  3.5e-11,3.97e-11,3.3e-11,4.2e-11,3.74e-11,4.5e-11,3.5e-11,4.2e-11,4.76e-11,3.97e-11,
  4.76e-11,3.74e-11,5.06e-11,3.97e-11,4.76e-11,4.2e-11,5.4e-11,4.5e-11,5.7e-11,1.29e-10,
  1.21e-10,5.06e-11,5.7e-11,5.06e-11,1.85e-10,5.7e-11,1.49e-10,2.2e-10,1.96e-10,
  8.2e-11,5.4e-11,6.4e-11,4.8e-11,5.6e-11,4.5e-11,5.1e-11,1.1e-10,4.7e-11,1.21e-10,
  4.6e-11,5.0e-11,4.2e-11,4.5e-11,3.68e-10,4.0e-11,4.8e-11,2.0e-10,4.1e-11,3.0e-11,
  4.9e-11,2.6e-11,5.0e-11,2.8e-11,4.7e-11,2.5e-11,5.1e-11,2.7e-11,4.8e-11,2.6e-11,
  5.0e-11,2.8e-11,4.6e-11,2.5e-11,5.1e-11,2.7e-11,4.9e-11,2.6e-11,4.7e-11,2.8e-11,
  5.1e-11,2.5e-11,4.8e-11,2.7e-11,5.0e-11,2.6e-11,4.6e-11,1.79e-10,4.9e-11,2.5e-11,
  5.1e-11,2.7e-11,4.8e-11,2.6e-11,5.0e-11,2.8e-11,4.7e-11,2.5e-11,5.1e-11,2.7e-11,
  4.9e-11,2.6e-11,5.0e-11,2.8e-11,4.6e-11,2.5e-11,5.1e-11,2.7e-11,4.8e-11,9.2e-11,
  5.0e-11,2.6e-11,4.7e-11,2.8e-11,5.1e-11,2.5e-11,4.9e-11,2.7e-11,4.8e-11,2.6e-11,
  1.01e-10,2.8e-11,4.7e-11,2.5e-11,5.1e-11,2.7e-11,4.9e-11,2.6e-11,5.0e-11,2.8e-11,
  4.6e-11,2.5e-11,5.1e-11,2.7e-11,4.8e-11,1.76e-10,5.0e-11,2.6e-11,4.9e-11,2.7e-11];
const ade25_f = [0.01, 0.1, 0.7, 100];
const ade25_v = [7.6e-10, 1.52e-10, 6.1e-11, 6.1e-11];

// ---------------- labels ----------------
const st1Names = ['ITMX_ST1_CPSINF_H1','ITMX_ST1_CPSINF_H2','ITMX_ST1_CPSINF_H3',
                  'ITMX_ST1_CPSINF_V1','ITMX_ST1_CPSINF_V2','ITMX_ST1_CPSINF_V3','ADE 1mm noise'];
const st2Names = ['ITMX_ST2_CPSINF_H1','ITMX_ST2_CPSINF_H2','ITMX_ST2_CPSINF_H3',
                  'ITMX_ST2_CPSINF_V1','ITMX_ST2_CPSINF_V2','ITMX_ST2_CPSINF_V3','ADE .25mm noise'];
const xTickVals = [0.01, 0.1, 1, 10, 100];
const xTickText = ['10<sup>−2</sup>','10<sup>−1</sup>','10<sup>0</sup>','10<sup>1</sup>','10<sup>2</sup>'];
const y1TickVals = [1e-10, 1e-9, 1e-8, 1e-7];
const y1TickText = ['10<sup>−10</sup>','10<sup>−9</sup>','10<sup>−8</sup>','10<sup>−7</sup>'];
const y2TickVals = [1e-11, 1e-10, 1e-9, 1e-8];
const y2TickText = ['10<sup>−11</sup>','10<sup>−10</sup>','10<sup>−9</sup>','10<sup>−8</sup>'];
const colors = ['#1f77b4','#ff7f0e','#2ca02c','#d62728','#9467bd','#8c564b','#e377c2'];

const freq = fLow.concat(fMid, fHigh);

const LW = 4.2;
function mk(x, y, name, color, xa, ya, lg, grp) {
  return {type: 'scatter', mode: 'lines', x: x, y: y, name: name, legendgroup: grp,
          line: {color: color, width: LW}, xaxis: xa, yaxis: ya, legend: lg};
}
const st1 = [st1_H1, st1_H2, st1_H3, st1_V1, st1_V2, st1_V3];
const st2 = [st2_H1, st2_H2, st2_H3, st2_V1, st2_V2, st2_V3];
const traces = [];
st1.forEach((s, i) => traces.push(mk(freq, s, st1Names[i], colors[i], 'x', 'y', 'legend', 'a' + i)));
traces.push(mk(ade1_f, ade1_v, st1Names[6], colors[6], 'x', 'y', 'legend', 'a6'));
st2.forEach((s, i) => traces.push(mk(freq, s, st2Names[i], colors[i], 'x2', 'y2', 'legend2', 'b' + i)));
traces.push(mk(ade25_f, ade25_v, st2Names[6], colors[6], 'x2', 'y2', 'legend2', 'b6'));

const grid = '#b0b0b0';
function common() {
  return {type: 'log', showgrid: true, gridcolor: grid, gridwidth: 1,
    minor: {dtick: 'D1', showgrid: true, gridcolor: grid, gridwidth: 1, ticks: 'outside', ticklen: 4, tickcolor: '#000'},
    ticks: 'outside', ticklen: 7, tickwidth: 1.2, tickcolor: '#000',
    showline: true, linecolor: '#000', linewidth: 1.5, mirror: true, zeroline: false,
    tickfont: {size: 13, color: '#000'}};
}
function xAxis(anchor) {
  return Object.assign(common(), {range: [-2, 2.301], anchor: anchor,
    tickmode: 'array', tickvals: xTickVals, ticktext: xTickText,
    title: {text: 'Freq (hz)', font: {size: 25, color: '#000'}, standoff: 9}});
}
function yAxis(anchor, domain, range, tv, tt) {
  return Object.assign(common(), {range: range, domain: domain, anchor: anchor,
    tickmode: 'array', tickvals: tv, ticktext: tt,
    title: {text: 'm/rthz', font: {size: 25, color: '#000'}, standoff: 0}});
}
function legendCfg(y) {
  return {x: 0.992, y: y, xanchor: 'right', yanchor: 'top', xref: 'paper', yref: 'paper',
    bgcolor: 'rgba(255,255,255,0.8)', bordercolor: '#cccccc', borderwidth: 1,
    font: {size: 28, color: '#000'}, traceorder: 'grouped', tracegroupgap: 4, itemwidth: 68};
}

const layout = {
  width: 2400, height: 1600,
  paper_bgcolor: '#ffffff', plot_bgcolor: '#ffffff',
  font: {family: 'DejaVu Sans, sans-serif', color: '#000'},
  margin: {l: 300, r: 240, t: 192, b: 176, pad: 0},
  title: {text: 'CPS Spectra<br>1247205600 to 1247206200', font: {size: 36, color: '#000'},
          x: 0.5, xref: 'container', xanchor: 'center', y: 1 - 60/1600, yref: 'container', yanchor: 'middle'},
  xaxis: xAxis('y'),
  yaxis: yAxis('x', [0.5463, 1], [-10.403, -6.841], y1TickVals, y1TickText),
  xaxis2: xAxis('y2'),
  yaxis2: yAxis('x2', [0, 0.4541], [-11.53, -7.145], y2TickVals, y2TickText),
  showlegend: true,
  legend: legendCfg(0.991),
  legend2: legendCfg(0.4464),
  annotations: [
    {text: 'ITMX_ST1', xref: 'paper', yref: 'paper', x: 0.5, y: 1, xanchor: 'center', yanchor: 'bottom',
     yshift: 4, showarrow: false, font: {size: 27, color: '#000'}},
    {text: 'ITMX_ST2', xref: 'paper', yref: 'paper', x: 0.5, y: 0.4541, xanchor: 'center', yanchor: 'bottom',
     yshift: 4, showarrow: false, font: {size: 27, color: '#000'}},
    {text: '/ligo/home/cheryl.vorvick/BSC_cps_spectra.py', xref: 'paper', yref: 'paper', x: 1.071, y: 0.504,
     xanchor: 'center', yanchor: 'middle', textangle: -90, showarrow: false, font: {size: 16, color: '#000'}},
    {text: 'calibration only >10hz', xref: 'paper', yref: 'paper', x: 0.5005, y: -0.0715,
     xanchor: 'center', yanchor: 'middle', showarrow: false, font: {size: 16, color: '#000'}}
  ]
};

Plotly.newPlot('chart', traces, layout, {staticPlot: true, displayModeBar: false});
</script>
</body>
</html>
